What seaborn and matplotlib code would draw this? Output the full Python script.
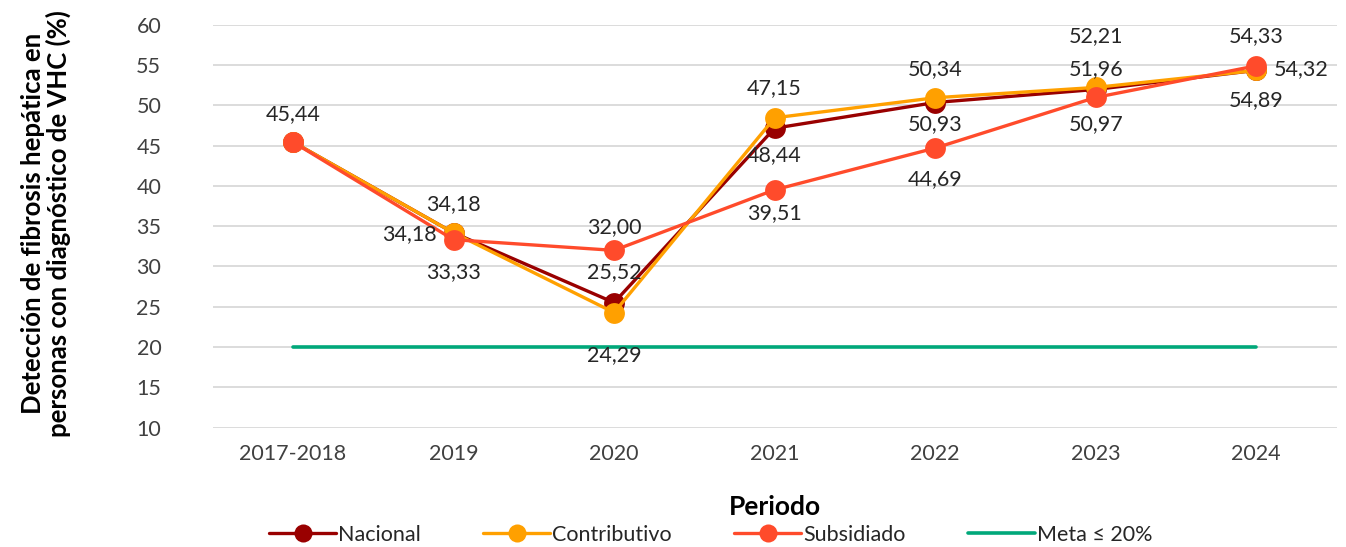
import pandas as pd
import numpy as np
import matplotlib
matplotlib.use('Agg')
import matplotlib.pyplot as plt
from matplotlib.lines import Line2D
import seaborn as sns

# Datos
periodos = ['2017-2018', '2019', '2020', '2021', '2022', '2023', '2024']
nacional = [45.44, 34.18, 25.52, 47.15, 50.34, 51.96, 54.33]
contributivo = [45.44, 34.18, 24.29, 48.44, 50.93, 52.21, 54.32]
subsidiado = [45.44, 33.33, 32.00, 39.51, 44.69, 50.97, 54.89]
meta = 20

series = ['Nacional', 'Contributivo', 'Subsidiado']
colores = {'Nacional': '#990000', 'Contributivo': '#ffa000', 'Subsidiado': '#ff4b2b'}
color_meta = '#00a87a'

df = pd.DataFrame({
    'periodo': periodos * 3,
    'pos': list(range(len(periodos))) * 3,
    'valor': nacional + contributivo + subsidiado,
    'serie': [s for s in series for _ in periodos],
})

sns.set_theme(style='white')
plt.rcParams['font.family'] = ['Lato', 'DejaVu Sans']

fig, ax = plt.subplots(figsize=(13.46, 5.47), dpi=100)
fig.subplots_adjust(left=0.158, right=0.993, top=0.955, bottom=0.218)

for y in range(10, 61, 5):
    ax.axhline(y, color='#d9d9d9', lw=1.3, zorder=0)

ax.plot([0, len(periodos) - 1], [meta, meta], color=color_meta, lw=2.6, zorder=1)

sns.lineplot(data=df, x='pos', y='valor', hue='serie', hue_order=series,
             palette=colores, marker='o', markersize=15, markeredgewidth=0,
             linewidth=2.4, legend=False, ax=ax, zorder=3)

# desplazamientos de etiquetas (puntos) como en el original
offsets = {
    ('Nacional', 0): (0, 20),
    ('Contributivo', 1): (0, 21), ('Nacional', 1): (-32, -1), ('Subsidiado', 1): (0, -23),
    ('Subsidiado', 2): (0, 17), ('Nacional', 2): (0, 22), ('Contributivo', 2): (0, -31),
    ('Nacional', 3): (0, 29), ('Contributivo', 3): (0, -27), ('Subsidiado', 3): (0, -17),
    ('Nacional', 4): (0, 24), ('Contributivo', 4): (0, -19), ('Subsidiado', 4): (0, -22),
    ('Contributivo', 5): (0, 37), ('Nacional', 5): (0, 15), ('Subsidiado', 5): (0, -19),
    ('Nacional', 6): (0, 25), ('Contributivo', 6): (32, 1), ('Subsidiado', 6): (0, -25),
}
valores = {'Nacional': nacional, 'Contributivo': contributivo, 'Subsidiado': subsidiado}
for (s, i), (dx, dy) in offsets.items():
    v = valores[s][i]
    ax.annotate(f'{v:.2f}'.replace('.', ','), (i, v), xytext=(dx, dy),
                textcoords='offset points', ha='center', va='center',
                fontsize=15.5, color='#262626', zorder=5)

ax.set_xlim(-0.5, len(periodos) - 0.5)
ax.set_ylim(10, 60)
ax.set_yticks(range(10, 61, 5))
ax.set_xticks(range(len(periodos)))
ax.set_xticklabels(periodos)
ax.tick_params(axis='both', labelsize=15.5, colors='#404040', length=0)
ax.tick_params(axis='x', pad=12)
ax.tick_params(axis='y', pad=37)
for sp in ax.spines.values():
    sp.set_visible(False)

ax.set_xlabel('Periodo', fontsize=19, fontweight='bold', color='black', labelpad=22)
ax.set_ylabel('Detección de fibrosis hepática en\npersonas con diagnóstico de VHC (%)',
              fontsize=18.5, fontweight='bold', color='black', linespacing=1.05)
ax.yaxis.set_label_coords(-0.126, 0.507)

handles = [Line2D([], [], color=colores[s], lw=2.4, marker='o', markersize=13,
                  markeredgewidth=0) for s in series]
handles.append(Line2D([], [], color=color_meta, lw=2.6))
labels = series + ['Meta ≤ 20%']
fig.legend(handles, labels, loc='center', bbox_to_anchor=(0.528, 12 / 547),
           ncol=4, frameon=False, fontsize=15.5, handlelength=3.1,
           columnspacing=2.9, handletextpad=0.1, labelcolor='#262626')

fig.savefig('out.png', dpi=100)
